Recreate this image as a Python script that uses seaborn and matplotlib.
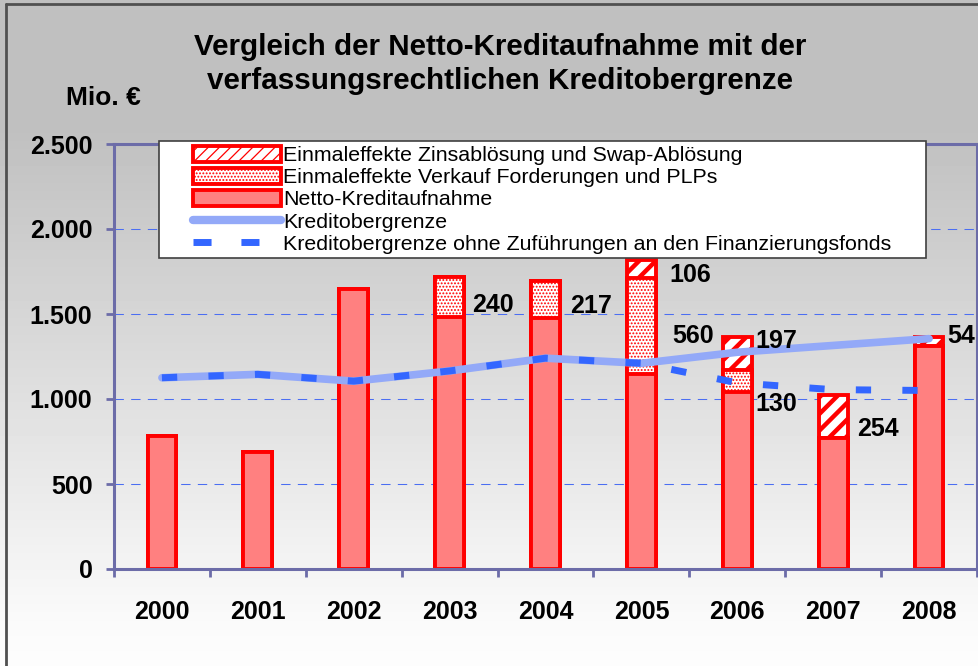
import numpy as np
import pandas as pd
import matplotlib
matplotlib.use("Agg")
import matplotlib.pyplot as plt
import matplotlib.patches as mpatches
from matplotlib.lines import Line2D
from matplotlib.ticker import FuncFormatter
import seaborn as sns

# Werte in Mio. €
years = ["2000", "2001", "2002", "2003", "2004", "2005", "2006", "2007", "2008"]
netto = [780, 690, 1650, 1480, 1477, 1150, 1040, 770, 1310]
verkauf = [0, 0, 0, 240, 217, 560, 130, 0, 0]
zins = [0, 0, 0, 0, 0, 106, 197, 254, 54]
grenze = [1125, 1145, 1105, 1165, 1240, 1210, 1275, 1315, 1355]
grenze_ohne = [1125, 1145, 1105, 1165, 1240, 1210, 1095, 1055, 1050]

legend_labels = [
    "Einmaleffekte Zinsablösung und Swap-Ablösung",
    "Einmaleffekte Verkauf Forderungen und PLPs",
    "Netto-Kreditaufnahme",
    "Kreditobergrenze",
    "Kreditobergrenze ohne Zuführungen an den Finanzierungsfonds",
]

# Position der Beschriftungen: (Versatz zur Balkenmitte, Höhe)
verkauf_lbl_pos = {3: (0.23, 1552), 4: (0.26, 1545), 5: (0.32, 1370), 6: (0.19, 968)}
zins_lbl_pos = {5: (0.29, 1730), 6: (0.19, 1340), 7: (0.25, 824), 8: (0.19, 1368)}

RED = "#FF0000"
SALMON = "#FF8080"
LIGHT = "#93A9F8"
BLUE = "#3366FF"
FRAME = "#6C6CA8"
GRID = "#4B6EF2"

sns.set_theme(style="white")
plt.rcParams["font.family"] = ["Liberation Sans", "DejaVu Sans"]
plt.rcParams["text.color"] = "black"

df = pd.DataFrame({"Jahr": years, "Netto": netto, "Verkauf": verkauf, "Zins": zins,
                   "Grenze": grenze, "Ohne": grenze_ohne})
df["mit_verkauf"] = df["Netto"] + df["Verkauf"]
df["gesamt"] = df["mit_verkauf"] + df["Zins"]

fig = plt.figure(figsize=(9.79, 6.66), dpi=100)

# Hintergrund mit Verlauf grau -> weiss
bg = fig.add_axes([0, 0, 1, 1], zorder=-10)
rows = np.arange(666)
shade = np.interp(rows, [0, 130, 620, 666], [192, 192, 250, 253]) / 255
bg.imshow(np.repeat(shade[:, None], 2, axis=1), cmap="gray", vmin=0, vmax=1,
          aspect="auto", extent=[0, 1, 0, 1])
bg.set_axis_off()

ax = fig.add_axes([114 / 979, 1 - 569 / 666, (977 - 114) / 979, (569 - 144) / 666])
ax.set_facecolor("none")


def set_hatch_lw(patches, lw):
    for p in patches:
        if hasattr(p, "set_hatch_linewidth"):
            p.set_hatch_linewidth(lw)


# gestapelte Balken: erst Gesamt, dann ueberdecken
n0 = len(ax.patches)
plt.rcParams["hatch.linewidth"] = 3.2
sns.barplot(data=df, x="Jahr", y="gesamt", color="white", saturation=1, width=0.3,
            edgecolor=RED, linewidth=2.8, hatch="//", errorbar=None, ax=ax)
set_hatch_lw(ax.patches[n0:], 3.2)
n1 = len(ax.patches)
plt.rcParams["hatch.linewidth"] = 0.9
sns.barplot(data=df, x="Jahr", y="mit_verkauf", color="white", saturation=1, width=0.3,
            edgecolor=RED, linewidth=2.8, hatch=".....", errorbar=None, ax=ax)
set_hatch_lw(ax.patches[n1:], 0.9)
sns.barplot(data=df, x="Jahr", y="Netto", color=SALMON, saturation=1, width=0.3,
            edgecolor=RED, linewidth=2.8, errorbar=None, ax=ax)

sns.lineplot(data=df, x="Jahr", y="Grenze", color=LIGHT, linewidth=5.5, sort=False, ax=ax)
sns.lineplot(data=df, x="Jahr", y="Ohne", color=BLUE, linewidth=5, sort=False,
             linestyle=(0, (2.2, 4.5)), ax=ax)

# Beschriftungen
for i, (dx, y) in verkauf_lbl_pos.items():
    ax.text(i + dx, y, str(verkauf[i]), ha="left", va="center", fontsize=18,
            fontweight="bold", color="black", zorder=5)
for i, (dx, y) in zins_lbl_pos.items():
    ax.text(i + dx, y, str(zins[i]), ha="left", va="center", fontsize=18,
            fontweight="bold", color="black", zorder=5)

ax.set_xlim(-0.5, 8.5)
ax.set_ylim(0, 2500)
ax.set_xlabel("")
ax.set_ylabel("")
ax.set_yticks(np.arange(0, 2501, 500))
ax.yaxis.set_major_formatter(FuncFormatter(lambda v, _: f"{v:,.0f}".replace(",", ".")))
ax.set_xticks(np.arange(-0.5, 9, 1))
ax.set_xticklabels([])
ax.set_xticks(range(len(years)), minor=True)
ax.set_xticklabels(years, minor=True)
ax.tick_params(axis="x", which="major", length=6, width=2, color=FRAME, direction="out", bottom=True)
ax.tick_params(axis="x", which="minor", length=0, pad=22, labelsize=18, bottom=True)
ax.tick_params(axis="y", length=6, width=2, color=FRAME, direction="out", pad=9.5,
               labelsize=18, left=True)
for lbl in ax.get_xticklabels(minor=True) + ax.get_yticklabels():
    lbl.set_fontweight("bold")
    lbl.set_color("black")

ax.set_axisbelow(True)
ax.grid(False)
ax.yaxis.grid(True, linestyle=(0, (9, 7)), color=GRID, linewidth=0.75)
for s in ax.spines.values():
    s.set_visible(True)
    s.set_color(FRAME)
    s.set_linewidth(2.2)

# Legende in weissem Kasten
fig.add_artist(mpatches.Rectangle((159 / 979, 1 - 258 / 666), (926 - 159) / 979, (258 - 141) / 666,
                                  transform=fig.transFigure, facecolor="white",
                                  edgecolor="#404040", linewidth=1.2, zorder=4))
plt.rcParams["hatch.linewidth"] = 2.5
h_zins = mpatches.Patch(facecolor="white", edgecolor=RED, hatch="///", linewidth=2.8)
plt.rcParams["hatch.linewidth"] = 0.9
h_verk = mpatches.Patch(facecolor="white", edgecolor=RED, hatch=".....", linewidth=2.8)
h_netto = mpatches.Patch(facecolor=SALMON, edgecolor=RED, linewidth=2.8)
h_gr = Line2D([], [], color=LIGHT, linewidth=6)
h_oh = Line2D([], [], color=BLUE, linewidth=5, linestyle=(0, (2.6, 4.3)))
fig.legend([h_zins, h_verk, h_netto, h_gr, h_oh], legend_labels, loc="upper left",
           bbox_to_anchor=(193 / 979, 1 - 146 / 666), frameon=False, fontsize=15.4,
           handlelength=4.1, handleheight=0.75, handletextpad=0.12, labelspacing=0.13,
           borderpad=0, borderaxespad=0).set_zorder(6)

# Titel
fig.text(500 / 979, 1 - 64 / 666,
         "Vergleich der Netto-Kreditaufnahme mit der\nverfassungsrechtlichen Kreditobergrenze",
         ha="center", va="center", fontsize=21.3, fontweight="bold", linespacing=1.3)
fig.text(66 / 979, 1 - 98 / 666, "Mio. €", ha="left", va="center", fontsize=19, fontweight="bold")

# Rahmen links / oben
fig.add_artist(Line2D([6 / 979, 6 / 979], [0, 1 - 4 / 666], transform=fig.transFigure,
                      color="#505050", linewidth=2))
fig.add_artist(Line2D([6 / 979, 1], [1 - 4 / 666, 1 - 4 / 666], transform=fig.transFigure,
                      color="#505050", linewidth=2))

fig.savefig("out.png", dpi=100)
plt.close(fig)
